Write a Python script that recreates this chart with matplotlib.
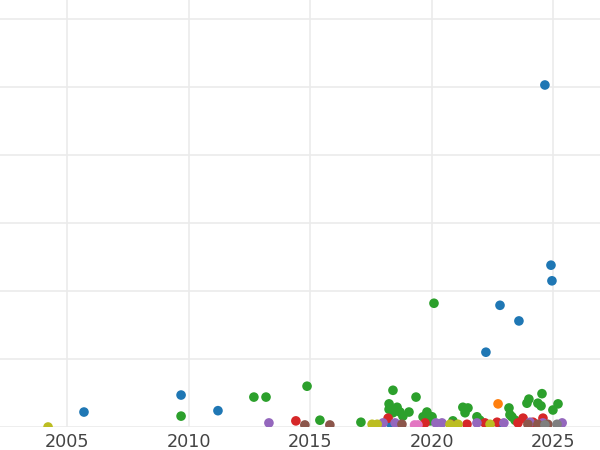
import matplotlib
matplotlib.use('Agg')
from matplotlib import pyplot as plt

# values, one pair of lists per colour group
blue_year = [2005.68, 2009.68, 2011.20, 2024.67, 2024.92, 2024.96, 2022.82,
             2023.60, 2022.24, 2018.29, 2022.90]
blue_val = [22, 47, 24, 503, 238, 215, 179, 156, 110, 6, 4]

orange_year = [2022.74]
orange_val = [34]

green_year = [2009.68, 2012.68, 2013.18, 2014.87, 2015.40, 2017.09, 2020.10,
              2018.41, 2018.25, 2018.25, 2018.41, 2018.58, 2018.70, 2018.82,
              2019.07, 2019.36, 2019.65, 2019.81, 2020.02, 2019.94, 2021.29,
              2021.50, 2021.38, 2021.87, 2021.99, 2020.88, 2023.19, 2023.23,
              2023.44, 2023.93, 2024.01, 2024.55, 2024.38, 2024.51, 2025.00,
              2025.21, 2023.31]
green_val = [16, 44, 44, 60, 10, 7, 182,
             54, 34, 26, 21, 29, 22, 16,
             22, 44, 15, 22, 15, 9, 29,
             28, 21, 15, 10, 9, 28, 18,
             10, 35, 41, 49, 35, 31, 25,
             34, 15]

red_year = [2014.41, 2018.21, 2019.73, 2021.46, 2022.70, 2023.56, 2023.77,
            2024.59, 2022.20, 2024.18]
red_val = [9, 13, 6, 4, 7, 6, 13, 13, 6, 7]

purple_year = [2013.30, 2018.00, 2018.50, 2020.18, 2020.43, 2021.87, 2022.98,
               2024.06, 2024.59, 2025.38]
purple_val = [6, 6, 6, 6, 6, 6, 6, 7, 6, 6]

brown_year = [2014.78, 2015.81, 2018.78, 2020.84, 2023.97, 2024.38, 2024.79]
brown_val = [3, 3, 4, 4, 4, 4, 4]

pink_year = [2019.30, 2019.44]
pink_val = [3, 3]

gray_year = [2024.67, 2025.17]
gray_val = [3, 4]

olive_year = [2004.20, 2017.55, 2017.76, 2020.76, 2021.09, 2022.41]
olive_val = [0, 4, 4, 4, 4, 4]

groups = [
    (blue_year, blue_val, '#1f77b4'),
    (orange_year, orange_val, '#ff7f0e'),
    (green_year, green_val, '#2ca02c'),
    (red_year, red_val, '#d62728'),
    (purple_year, purple_val, '#9467bd'),
    (brown_year, brown_val, '#8c564b'),
    (pink_year, pink_val, '#e377c2'),
    (gray_year, gray_val, '#7f7f7f'),
    (olive_year, olive_val, '#bcbd22'),
]

fig = plt.figure(figsize=(6, 4.5), dpi=100)
ax = fig.add_axes([0, 23 / 450, 1, 1 - 23 / 450])

for xs, ys, c in groups:
    ax.scatter(xs, ys, s=48, color=c, edgecolors='none', zorder=3)

ax.set_xlim(2002.22, 2026.94)
ax.set_ylim(0, 628)
ax.set_xticks([2005, 2010, 2015, 2020, 2025])
ax.set_yticks([0, 100, 200, 300, 400, 500, 600])
ax.set_yticklabels([])
ax.grid(True, color='#ebebeb', linewidth=1.2, zorder=0)
ax.set_axisbelow(True)
for sp in ax.spines.values():
    sp.set_visible(False)
ax.tick_params(axis='both', length=0, labelsize=12.7, colors='#444444', pad=4)
ax.tick_params(axis='y', labelleft=False)

plt.savefig('out.png', dpi=100)
